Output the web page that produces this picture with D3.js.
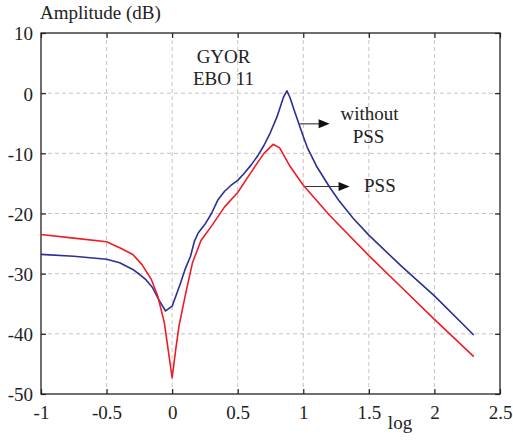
<!DOCTYPE html>
<html lang="en">
<head>
    <meta charset="UTF-8">
    <title>Amplitude - GYOR EBO 11</title>
    <script src="https://d3js.org/d3.v7.min.js"></script>
    <style>
        body { margin: 0; background: #fff; }
        svg text { font-family: "Liberation Serif", "DejaVu Serif", "Times New Roman", Times, serif !important; font-size: 19px; fill: #222; }
        .grid line { stroke: #c4c4c4; stroke-width: 1; stroke-dasharray: 4,3; }
        .frame { fill: none; stroke: #222; stroke-width: 1.3px; }
        .tick-mark { stroke: #222; stroke-width: 1.2px; }
        .curve { fill: none; stroke-width: 1.6px; stroke-linejoin: round; }
        .arrow { stroke: #333; stroke-width: 1.1px; }
    </style>
</head>
<body>
    <svg width="513" height="448"></svg>

    <script>
        // tick values
        const xTicks = [-1, -0.5, 0, 0.5, 1, 1.5, 2, 2.5];
        const yTicks = [10, 0, -10, -20, -30, -40, -50];

        // without PSS (blue)
        const noPssX = [-1, -0.75, -0.5, -0.4, -0.3, -0.25, -0.2, -0.15, -0.1, -0.05, 0, 0.065, 0.1, 0.14, 0.17, 0.2, 0.25, 0.3, 0.35, 0.4, 0.45, 0.5, 0.55, 0.6, 0.65, 0.7, 0.75, 0.8, 0.85, 0.875, 0.9, 0.93, 0.965, 1.0, 1.03, 1.1, 1.2, 1.27, 1.38, 1.5, 1.75, 2.0, 2.3];
        const noPssY = [-26.8, -27.1, -27.6, -28.2, -29.3, -30.1, -31.0, -32.3, -34.4, -36.2, -35.4, -31.5, -29.2, -27.1, -24.6, -23.2, -21.8, -20.0, -17.7, -16.3, -15.3, -14.5, -13.3, -12.0, -10.5, -8.7, -6.5, -3.9, -0.6, 0.4, -0.8, -2.8, -5.0, -7.2, -9.0, -12.1, -15.6, -17.8, -20.8, -23.6, -28.8, -33.7, -40.2];

        // with PSS (red)
        const pssX = [-1, -0.75, -0.5, -0.4, -0.3, -0.23, -0.16, -0.11, -0.06, -0.035, 0, 0.028, 0.053, 0.105, 0.155, 0.22, 0.3, 0.4, 0.5, 0.6, 0.7, 0.77, 0.82, 0.9, 1.0, 1.1, 1.2, 1.5, 1.75, 2.0, 2.3];
        const pssY = [-23.5, -24.1, -24.7, -25.7, -26.8, -28.5, -30.9, -33.7, -38.1, -41.9, -47.3, -42.5, -38.6, -33.1, -28.2, -24.5, -22.1, -18.9, -16.5, -13.2, -10.0, -8.5, -9.1, -12.2, -15.3, -17.8, -20.3, -27.0, -32.3, -37.6, -43.8];

        const svg = d3.select("svg"),
            margin = { top: 33, right: 13, bottom: 54, left: 41 },
            width = +svg.attr("width") - margin.left - margin.right,
            height = +svg.attr("height") - margin.top - margin.bottom;

        const g = svg.append("g")
            .attr("transform", `translate(${margin.left},${margin.top})`);

        const x = d3.scaleLinear().domain([-1, 2.5]).range([0, width]);
        const y = d3.scaleLinear().domain([-50, 10]).range([height, 0]);

        // plain hyphen minus, like the original figure
        const fmt = d => String(d);

        // dashed grid
        const grid = g.append("g").attr("class", "grid");
        grid.selectAll(".gx")
            .data(xTicks.slice(1, -1))
            .enter().append("line")
            .attr("x1", d => x(d)).attr("x2", d => x(d))
            .attr("y1", 0).attr("y2", height);
        grid.selectAll(".gy")
            .data(yTicks.slice(1, -1))
            .enter().append("line")
            .attr("x1", 0).attr("x2", width)
            .attr("y1", d => y(d)).attr("y2", d => y(d));

        // axes (ticks pointing inward)
        const xAxis = g.append("g")
            .attr("transform", `translate(0,${height})`)
            .call(d3.axisBottom(x).tickValues(xTicks).tickSize(-5).tickPadding(12).tickFormat(fmt));
        const yAxis = g.append("g")
            .call(d3.axisLeft(y).tickValues(yTicks).tickSize(-5).tickPadding(8).tickFormat(fmt));
        g.append("g")
            .attr("transform", `translate(${width},0)`)
            .call(d3.axisRight(y).tickValues(yTicks).tickSize(-5).tickFormat(""));
        g.append("g")
            .call(d3.axisTop(x).tickValues(xTicks).tickSize(-5).tickFormat(""));

        g.selectAll(".domain").remove();
        g.selectAll("g").attr("font-family", null);
        g.selectAll(".tick line").attr("class", "tick-mark");
        g.selectAll(".tick text").attr("fill", "#222");
        yAxis.selectAll(".tick text").attr("dy", "0.36em");
        xAxis.selectAll(".tick text").attr("dy", "0.71em");

        g.append("rect")
            .attr("class", "frame")
            .attr("width", width)
            .attr("height", height);

        // curves
        const line = d3.line()
            .x(d => x(d[0]))
            .y(d => y(d[1]));

        g.append("path")
            .datum(d3.zip(noPssX, noPssY))
            .attr("class", "curve")
            .attr("stroke", "#2b2f96")
            .attr("d", line);

        g.append("path")
            .datum(d3.zip(pssX, pssY))
            .attr("class", "curve")
            .attr("stroke", "#ee1c25")
            .attr("d", line);

        // annotation arrows
        function arrow(x0, x1, yv) {
            const px0 = x(x0), px1 = x(x1), py = y(yv);
            g.append("line")
                .attr("class", "arrow")
                .attr("x1", px0).attr("x2", px1 - 9)
                .attr("y1", py).attr("y2", py);
            g.append("path")
                .attr("d", `M${px1},${py} L${px1 - 11},${py - 4.5} L${px1 - 11},${py + 4.5} Z`)
                .attr("fill", "#111");
        }
        arrow(0.972, 1.201, -5.1);
        arrow(1.015, 1.353, -15.5);

        g.append("text").attr("x", x(1.505)).attr("y", y(-4.46)).attr("text-anchor", "middle").text("without");
        g.append("text").attr("x", x(1.498)).attr("y", y(-8.2)).attr("text-anchor", "middle").text("PSS");
        g.append("text").attr("x", x(1.584)).attr("y", y(-16.5)).attr("text-anchor", "middle").text("PSS");

        g.append("text").attr("x", x(0.392)).attr("y", y(4.96)).attr("text-anchor", "middle").text("GYOR");
        g.append("text").attr("x", x(0.392)).attr("y", y(1.36)).attr("text-anchor", "middle").text("EBO 11");

        // axis titles
        svg.append("text")
            .attr("x", 40)
            .attr("y", 19)
            .text("Amplitude (dB)");

        svg.append("text")
            .attr("x", 400)
            .attr("y", 429)
            .attr("text-anchor", "middle")
            .text("log");
    </script>
</body>
</html>
